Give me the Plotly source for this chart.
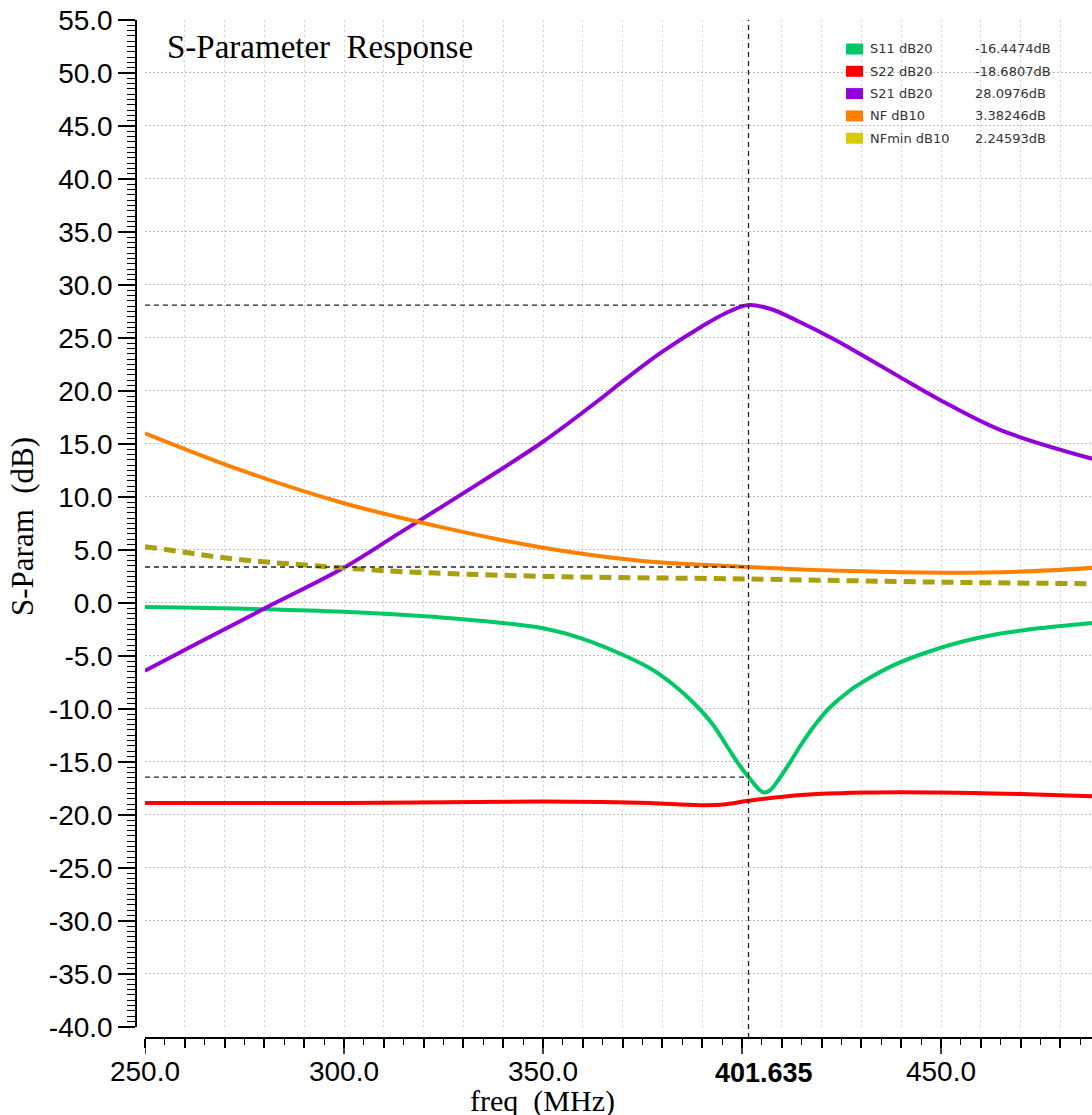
import numpy as np
import plotly.graph_objects as go

# ---------------- data ----------------
freq_s11 = [250, 280, 300, 325, 350, 360, 370, 377, 383, 388, 392.7, 396.5, 399.5, 401.635,
            403.3, 404.5, 405.7, 407, 408.8, 412, 415, 418.8, 422, 427, 432, 438, 444.7, 455, 465, 476, 488]
s11_db = [-0.4, -0.6, -0.85, -1.4, -2.4, -3.4, -4.9, -6.2, -7.8, -9.5, -11.5, -13.7, -15.4, -16.4474,
          -17.2, -17.7, -17.9, -17.7, -16.9, -15.1, -13.3, -11.3, -9.9, -8.3, -7.1, -5.9, -4.9, -3.7, -2.9, -2.35, -1.9]

freq_s22 = [250, 300, 350, 365, 376.9, 389.4, 396, 401.635, 410.3, 418.8, 431.4, 450, 470, 488]
s22_db = [-18.9, -18.9, -18.75, -18.8, -18.9, -19.1, -19.0, -18.6807, -18.3, -18.05, -17.9, -17.9, -18.05, -18.25]

freq_s21 = [250, 263.8, 280.7, 299.7, 314, 334, 350, 364.3, 370, 380, 390, 396, 401.635,
            407, 414, 423, 431, 439.7, 450, 465, 488]
s21_db = [-6.4, -3.7, -0.4, 3.26, 6.6, 11.3, 15.2, 19.2, 20.9, 23.7, 26.1, 27.35, 28.0976,
          27.75, 26.6, 24.9, 23.2, 21.3, 19.1, 16.3, 13.6]

freq_nf = [250, 275, 300, 325, 350, 375, 390, 401.635, 415, 427, 450, 470, 488]
nf_db = [16.0, 12.4, 9.4, 7.1, 5.2, 3.95, 3.6, 3.38246, 3.15, 3.0, 2.85, 2.95, 3.3]

freq_nfmin = [250, 259.5, 268.8, 279, 289, 300, 314, 350, 401.635, 450, 488]
nfmin_db = [5.3, 4.8, 4.3, 3.9, 3.6, 3.3, 2.95, 2.5, 2.24593, 1.95, 1.8]

series_names = ["S11 dB20", "S22 dB20", "S21 dB20", "NF dB10", "NFmin dB10"]
cursor_values = [-16.4474, -18.6807, 28.0976, 3.38246, 2.24593]
cursor_value_text = ["-16.4474dB", "-18.6807dB", "28.0976dB", "3.38246dB", "2.24593dB"]
cursor_freq = 401.635
cursor_label = "401.635"
marked_series = ["S21 dB20", "NF dB10", "S11 dB20"]

x_major = [250, 300, 350, 400, 450]
x_major_labels = ["250.0", "300.0", "350.0", "", "450.0"]
x_grid = list(range(250, 490, 10))

y_ticks = list(range(-40, 56, 5))
y_tick_labels = ["%.1f" % v for v in y_ticks]

chart_title = "S-Parameter\u00a0\u00a0Response"
y_title = "S-Param\u00a0\u00a0(dB)"
x_title = "freq\u00a0\u00a0(MHz)"

# ---------------- styles ----------------
line_colors = ["#00c864", "#ff0000", "#9400d8", "#ff8000", "#a8a00e"]
legend_colors = ["#00c864", "#ff0000", "#9400d8", "#ff8000", "#d6cc00"]

W, H = 1092, 1115
L, R, T, B = 136, 0, 20, 77


def px(x):
    return (x - L) / (W - L - R)


def py(y):
    return (H - B - y) / (H - T - B)


fig = go.Figure()
all_x = [freq_s11, freq_s22, freq_s21, freq_nf, freq_nfmin]
all_y = [s11_db, s22_db, s21_db, nf_db, nfmin_db]
for i, name in enumerate(series_names):
    dash = "12px,7px" if name.startswith("NFmin") else "solid"
    width = 5 if name.startswith("NFmin") else 4
    fig.add_trace(go.Scatter(
        x=all_x[i], y=all_y[i], mode="lines", name=name,
        line=dict(color=line_colors[i], width=width, dash=dash, shape="spline", smoothing=1.0),
        showlegend=False, hoverinfo="skip"))

# cursor lines
fig.add_shape(type="line", xref="x", yref="paper", x0=cursor_freq, x1=cursor_freq, y0=0, y1=1,
              line=dict(color="#222222", width=1.3, dash="5px,4px"), layer="above")
for i, name in enumerate(series_names):
    if name in marked_series:
        fig.add_shape(type="line", xref="x", yref="y", x0=x_major[0], x1=cursor_freq,
                      y0=cursor_values[i], y1=cursor_values[i],
                      line=dict(color="#222222", width=1.3, dash="5px,4px"), layer="above")

# long ticks at 50 MHz
for v in x_major:
    fig.add_shape(type="line", xref="x", yref="paper", x0=v, x1=v, y0=0, y1=py(1054),
                  line=dict(color="black", width=1.5))

# legend (custom, with cursor values)
for i, name in enumerate(series_names):
    yc = 49 + i * 22.3
    fig.add_shape(type="rect", xref="paper", yref="paper",
                  x0=px(846), x1=px(863), y0=py(yc + 5.5), y1=py(yc - 5.5),
                  fillcolor=legend_colors[i], line=dict(width=0))
    fig.add_annotation(xref="paper", yref="paper", x=px(868), y=py(yc), text=name,
                       showarrow=False, xanchor="left", yanchor="middle",
                       font=dict(family="DejaVu Sans", size=13, color="#333333"))
    fig.add_annotation(xref="paper", yref="paper", x=px(973), y=py(yc), text=cursor_value_text[i],
                       showarrow=False, xanchor="left", yanchor="middle",
                       font=dict(family="DejaVu Sans", size=13, color="#333333"))

# titles
fig.add_annotation(xref="paper", yref="paper", x=px(165), y=py(47), text=chart_title,
                   showarrow=False, xanchor="left", yanchor="middle",
                   font=dict(family="Liberation Serif", size=33, color="black"))
fig.add_annotation(xref="paper", yref="paper", x=px(22), y=py(527), text=y_title,
                   showarrow=False, xanchor="center", yanchor="middle", textangle=-90,
                   font=dict(family="Liberation Serif", size=31, color="black"))
fig.add_annotation(xref="paper", yref="paper", x=px(542), y=py(1101), text=x_title,
                   showarrow=False, xanchor="center", yanchor="middle",
                   font=dict(family="Liberation Serif", size=30, color="black"))
fig.add_annotation(xref="x", yref="paper", x=cursor_freq, xshift=15, y=py(1073), text="<b>" + cursor_label + "</b>",
                   showarrow=False, xanchor="center", yanchor="middle",
                   font=dict(family="Liberation Sans", size=27, color="black"))

x_right = 250 + (W - 145) / 3.98
fig.update_layout(
    width=W, height=H,
    margin=dict(l=L, r=R, t=T, b=B, pad=0),
    paper_bgcolor="white", plot_bgcolor="white",
    xaxis=dict(
        range=[250, x_right], domain=[px(145), 1], anchor="free", position=0,
        showline=True, linecolor="black", linewidth=1.5,
        ticks="outside", ticklen=9, tickwidth=1.5, tickcolor="black",
        tickvals=x_grid,
        ticktext=[x_major_labels[x_major.index(v)] if v in x_major else "" for v in x_grid],
        ticklabelstandoff=0,
        tickfont=dict(family="Liberation Sans", size=28, color="black"),
        showgrid=True, gridcolor="#d2d2d2", gridwidth=1, griddash="2px,3px",
        zeroline=False,
        minor=dict(dtick=5, tick0=250, ticks="outside", ticklen=6, tickwidth=1.2,
                   tickcolor="black", showgrid=False),
    ),
    yaxis=dict(
        range=[-40, 55], domain=[py(1026.7), 1], anchor="free", position=0,
        showline=True, linecolor="black", linewidth=1.5,
        ticks="outside", ticklen=17, tickwidth=1.5, tickcolor="black",
        tickvals=y_ticks, ticktext=y_tick_labels,
        ticklabelstandoff=0,
        tickfont=dict(family="Liberation Sans", size=28, color="black"),
        showgrid=True, gridcolor="#bdbdbd", gridwidth=1, griddash="2px,2px",
        zeroline=False,
        minor=dict(dtick=0.5, tick0=0, ticks="outside", ticklen=8, tickwidth=1.2,
                   tickcolor="black", showgrid=False),
    ),
)

fig.write_html("out.html")
